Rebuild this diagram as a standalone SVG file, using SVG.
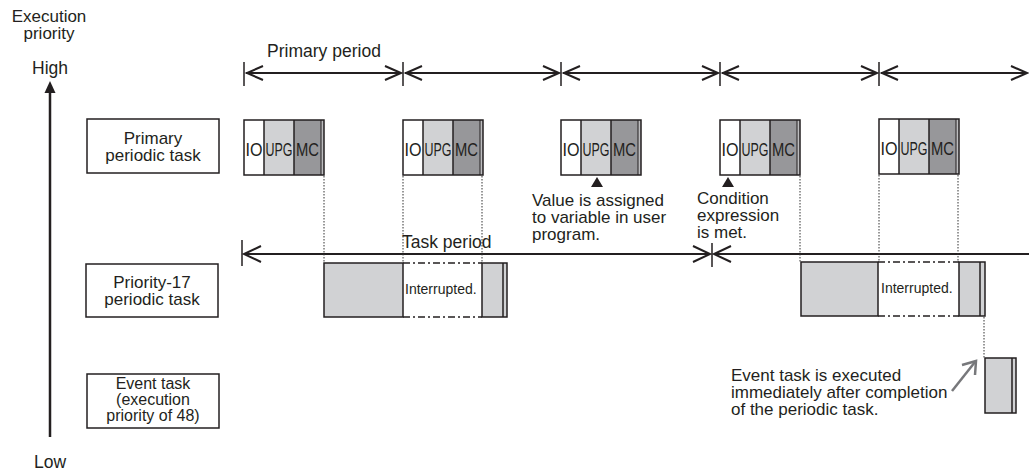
<svg xmlns="http://www.w3.org/2000/svg" width="1029" height="475" viewBox="0 0 1029 475">
<style>
text{font-family:"Liberation Sans",Arial,sans-serif;fill:#231f20}
.t{font-size:17.5px}
.a{font-size:17px}
.c{text-anchor:middle}
.sm{font-size:16px}
.blk{font-size:19px}
.int{font-size:14px}
.box{fill:#fff;stroke:#231f20;stroke-width:1.5}
.ln{stroke:#231f20;stroke-width:2;fill:none}
.bar{stroke:#231f20;stroke-width:1.5}
.dot{stroke:#333;stroke-width:1;stroke-dasharray:1.5 1.5;fill:none}
.dd{stroke:#231f20;stroke-width:1.3;stroke-dasharray:7 3 2 3;fill:none}
.io{fill:#fff}
.upg{fill:#d1d2d4}
.mc{fill:#97979a}
.strip{fill:#bdbdbf}
.gray{fill:#d1d2d4}
.ol{fill:none;stroke:#231f20;stroke-width:1.5}
</style>
<defs>
<g id="ptask">
<rect x="0" y="0" width="20" height="55" class="io"/>
<rect x="20" y="0" width="30" height="55" class="upg"/>
<rect x="50" y="0" width="27" height="55" class="mc"/>
<rect x="77" y="0" width="3" height="55" class="strip"/>
<line x1="20" y1="0" x2="20" y2="55" class="bar"/>
<line x1="50" y1="0" x2="50" y2="55" class="bar"/>
<line x1="77" y1="0" x2="77" y2="55" stroke="#231f20" stroke-width="1"/>
<rect x="0" y="0" width="80" height="55" class="ol"/>
<text x="10" y="36" class="blk c" textLength="17" lengthAdjust="spacingAndGlyphs">IO</text>
<text x="35" y="36" class="blk c" textLength="27" lengthAdjust="spacingAndGlyphs">UPG</text>
<text x="63.5" y="36" class="blk c" textLength="23" lengthAdjust="spacingAndGlyphs">MC</text>
</g>
</defs>

<g id="axis">
<text x="49" y="22" class="a c">Execution</text>
<text x="49" y="39" class="a c">priority</text>
<text x="50" y="74" class="t c">High</text>
<line x1="50" y1="90" x2="50" y2="437" stroke="#231f20" stroke-width="2.5"/>
<polygon points="50,81 44.5,93 55.5,93" fill="#231f20"/>
<text x="50" y="468" class="t c">Low</text>
</g>

<g id="label-primary">
<rect x="87" y="119" width="132" height="54" class="box"/>
<text x="153" y="144" class="a c">Primary</text>
<text x="153" y="161" class="a c">periodic task</text>
</g>
<g id="label-p17">
<rect x="86" y="264" width="132" height="53" class="box"/>
<text x="152" y="288" class="a c">Priority-17</text>
<text x="152" y="305" class="a c">periodic task</text>
</g>
<g id="label-event">
<rect x="87" y="374" width="132" height="54" class="box"/>
<text x="153" y="389" class="sm c">Event task</text>
<text x="153" y="405" class="sm c">(execution</text>
<text x="153" y="421" class="sm c">priority of 48)</text>
</g>

<g id="primary-blocks">
<use href="#ptask" x="244" y="120"/>
<use href="#ptask" x="403" y="120"/>
<use href="#ptask" x="561" y="120"/>
<use href="#ptask" x="720" y="120"/>
<use href="#ptask" x="879" y="119"/>
</g>

<g id="p17-blocks">
<rect x="324" y="263" width="79" height="54" class="gray"/>
<rect x="324" y="263" width="79" height="54" class="ol"/>
<rect x="482" y="263" width="25" height="54" class="gray"/>
<line x1="503" y1="263" x2="503" y2="317" class="bar"/>
<rect x="482" y="263" width="25" height="54" class="ol"/>
<text x="405" y="294" class="int">Interrupted.</text>
<rect x="801" y="262" width="77" height="54" class="gray"/>
<rect x="801" y="262" width="77" height="54" class="ol"/>
<rect x="959" y="262" width="26" height="54" class="gray"/>
<line x1="980" y1="262" x2="980" y2="316" class="bar"/>
<rect x="959" y="262" width="26" height="54" class="ol"/>
<text x="881" y="293" class="int">Interrupted.</text>
</g>

<g id="event-block">
<rect x="985" y="358" width="31" height="55" class="gray"/>
<line x1="1012" y1="358" x2="1012" y2="413" class="bar"/>
<rect x="985" y="358" width="31" height="55" class="ol"/>
</g>

<g id="connectors">
<line x1="244" y1="62" x2="244" y2="86" class="bar"/>
<line x1="403" y1="62" x2="403" y2="86" class="bar"/>
<line x1="561" y1="62" x2="561" y2="86" class="bar"/>
<line x1="720" y1="62" x2="720" y2="86" class="bar"/>
<line x1="879" y1="62" x2="879" y2="86" class="bar"/>
<line x1="246" y1="73" x2="401" y2="73" class="ln"/>
<line x1="405" y1="73" x2="559" y2="73" class="ln"/>
<line x1="563" y1="73" x2="718" y2="73" class="ln"/>
<line x1="722" y1="73" x2="877" y2="73" class="ln"/>
<line x1="881" y1="73" x2="1027" y2="73" class="ln"/>
<polyline points="263,66 247,73 263,80" class="ln"/>
<polyline points="385,66 401,73 385,80" class="ln"/>
<polyline points="422,66 406,73 422,80" class="ln"/>
<polyline points="543,66 559,73 543,80" class="ln"/>
<polyline points="580,66 564,73 580,80" class="ln"/>
<polyline points="702,66 718,73 702,80" class="ln"/>
<polyline points="739,66 723,73 739,80" class="ln"/>
<polyline points="861,66 877,73 861,80" class="ln"/>
<polyline points="898,66 882,73 898,80" class="ln"/>
<polyline points="1011,66 1027,73 1011,80" class="ln"/>
<line x1="242" y1="240" x2="242" y2="266" class="bar"/>
<line x1="712" y1="243" x2="712" y2="267" class="bar"/>
<line x1="244" y1="254" x2="710" y2="254" class="ln"/>
<line x1="714" y1="254" x2="1029" y2="254" class="ln" stroke-width="2.5"/>
<polyline points="261,246 244,254 261,262" class="ln"/>
<polyline points="693,246 710,254 693,262" class="ln"/>
<polyline points="731,246 714,254 731,262" class="ln"/>
<line x1="324" y1="176" x2="324" y2="263" class="dot"/>
<line x1="403" y1="176" x2="403" y2="263" class="dot"/>
<line x1="482" y1="176" x2="482" y2="263" class="dot"/>
<line x1="800" y1="176" x2="800" y2="262" class="dot"/>
<line x1="879" y1="175" x2="879" y2="262" class="dot"/>
<line x1="958" y1="175" x2="958" y2="262" class="dot"/>
<line x1="984" y1="317" x2="984" y2="358" class="dot"/>
<line x1="403" y1="263" x2="482" y2="263" class="dd"/>
<line x1="403" y1="317" x2="482" y2="317" class="dd"/>
<line x1="878" y1="262" x2="959" y2="262" class="dd"/>
<line x1="878" y1="316" x2="959" y2="316" class="dd"/>
<line x1="952" y1="391" x2="975" y2="362" stroke="#77787b" stroke-width="2.5"/>
<polyline points="962,365 976,361 975,375" fill="none" stroke="#77787b" stroke-width="2.5"/>
</g>

<g id="annotations">
<text x="324" y="57" class="t c">Primary period</text>
<polygon points="597,177 591,187 603,187" fill="#231f20"/>
<polygon points="728,177 722,187 734,187" fill="#231f20"/>
<text x="532" y="206" class="a">Value is assigned</text>
<text x="532" y="223" class="a">to variable in user</text>
<text x="532" y="240" class="a">program.</text>
<text x="697" y="204" class="a">Condition</text>
<text x="697" y="221" class="a">expression</text>
<text x="697" y="238" class="a">is met.</text>
<text x="402" y="248" class="t">Task period</text>
<text x="731" y="381" class="a">Event task is executed</text>
<text x="731" y="398" class="a">immediately after completion</text>
<text x="731" y="415" class="a">of the periodic task.</text>
</g>
</svg>
